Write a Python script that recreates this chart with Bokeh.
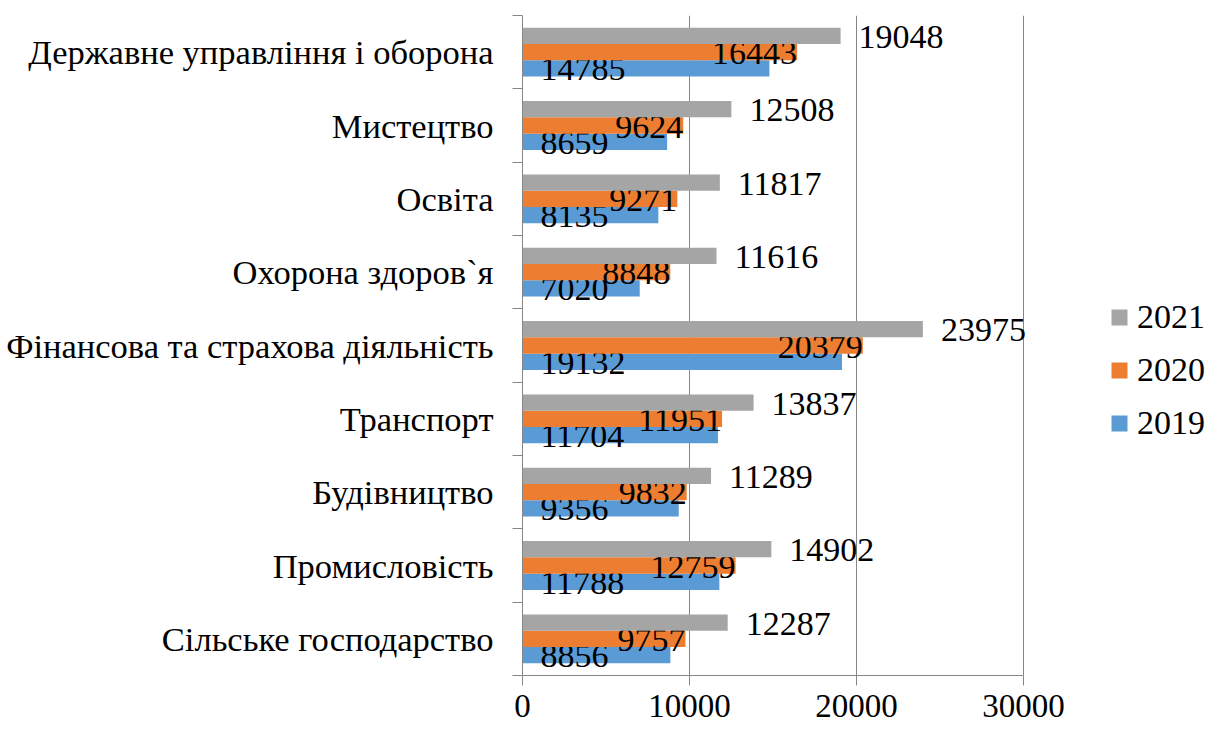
from bokeh.plotting import figure
from bokeh.models import (ColumnDataSource, Range1d, FixedTicker, LinearAxis,
                          Legend, LegendItem, Grid)
from bokeh.core.properties import value
from bokeh.embed import file_html
from bokeh.resources import INLINE

categories = ["Сільське господарство", "Промисловість", "Будівництво",
              "Транспорт", "Фінансова та страхова діяльність",
              "Охорона здоров`я", "Освіта", "Мистецтво",
              "Державне управління і оборона"]
v2019 = [8856, 11788, 9356, 11704, 19132, 7020, 8135, 8659, 14785]
v2020 = [9757, 12759, 9832, 11951, 20379, 8848, 9271, 9624, 16443]
v2021 = [12287, 14902, 11289, 13837, 23975, 11616, 11817, 12508, 19048]
series_names = ["2019", "2020", "2021"]
colors = ["#5B9BD5", "#ED7D31", "#A5A5A5"]
x_ticks = [0, 10000, 20000, 30000]

FONT = "Liberation Serif"
NUM_SIZE = "34px"
TICK_SIZE = "33px"
CAT_SIZE = "34.5px"
GRID = "#868686"

W, H = 1212, 729
LEFT = 522          # frame left edge
AXIS_PX = 501       # pixels spanned by 0..30000
frame_w = W - LEFT
x_end = x_ticks[-1] * frame_w / AXIS_PX   # frame extends right to hold the legend

n = len(categories)
bar_h = 1.0 / 4.5  # Excel gap width 150%
centers = [i + 0.5 for i in range(n)]

p = figure(width=W, height=H, output_backend="svg", toolbar_location=None,
           x_range=Range1d(0, x_end), y_range=Range1d(0, n),
           x_axis_type=None, y_axis_type=None,
           min_border_left=LEFT, min_border_right=0, min_border_top=15,
           min_border_bottom=54)
p.outline_line_color = None
p.background_fill_color = "white"
p.xgrid.visible = False
p.ygrid.visible = False

# axes
xaxis = LinearAxis(ticker=FixedTicker(ticks=x_ticks), bounds=(x_ticks[0], x_ticks[-1]))
xaxis.axis_line_color = GRID
xaxis.major_tick_line_color = GRID
xaxis.major_tick_out = 10
xaxis.major_tick_in = 0
xaxis.minor_tick_line_color = None
xaxis.major_label_text_font = FONT
xaxis.major_label_text_font_size = TICK_SIZE
xaxis.major_label_text_color = "black"
xaxis.major_label_standoff = 9
p.add_layout(xaxis, "below")

yaxis = LinearAxis(ticker=FixedTicker(ticks=centers, minor_ticks=list(range(n + 1))))
yaxis.axis_line_color = GRID
yaxis.major_tick_line_color = None
yaxis.major_tick_out = 0
yaxis.major_tick_in = 0
yaxis.minor_tick_line_color = GRID
yaxis.minor_tick_out = 10
yaxis.minor_tick_in = 0
yaxis.major_label_overrides = {c: name for c, name in zip(centers, categories)}
yaxis.major_label_text_font = FONT
yaxis.major_label_text_font_size = CAT_SIZE
yaxis.major_label_text_color = "black"
yaxis.major_label_standoff = 19
p.add_layout(yaxis, "left")

p.add_layout(Grid(dimension=0, ticker=FixedTicker(ticks=x_ticks[1:]),
                  grid_line_color=GRID, grid_line_width=1))

offsets = [-bar_h, 0.0, bar_h]
all_vals = [v2019, v2020, v2021]
renderers = []
for name, vals, col, off in zip(series_names, all_vals, colors, offsets):
    src = ColumnDataSource(dict(y=[c + off for c in centers], v=vals,
                                zero=[0] * n, t=[str(v) for v in vals]))
    r = p.hbar(y="y", left=0, right="v", height=bar_h, source=src,
               fill_color=col, line_color=None)
    renderers.append(r)
    common = dict(y="y", text="t", source=src, y_offset=1, text_baseline="middle",
                  text_font=value(FONT), text_font_size=NUM_SIZE, text_color="black")
    if name == "2019":
        p.text(x="zero", x_offset=18, text_align="left", **common)
    elif name == "2020":
        p.text(x="v", x_offset=0, text_align="right", **common)
    else:
        p.text(x="v", x_offset=18, text_align="left", **common)

legend = Legend(items=[LegendItem(label=s, renderers=[r])
                       for s, r in reversed(list(zip(series_names, renderers)))],
                location=(587, 233))
legend.glyph_width = 20
legend.glyph_height = 20
legend.label_height = 38
legend.label_standoff = 8
legend.padding = 0
legend.margin = 0
legend.spacing = 15
legend.border_line_color = None
legend.background_fill_alpha = 0
legend.label_text_font = FONT
legend.label_text_font_size = NUM_SIZE
legend.label_text_color = "black"
legend.label_text_baseline = "middle"
p.add_layout(legend, "center")

open("out.html", "w").write(file_html(p, INLINE))
